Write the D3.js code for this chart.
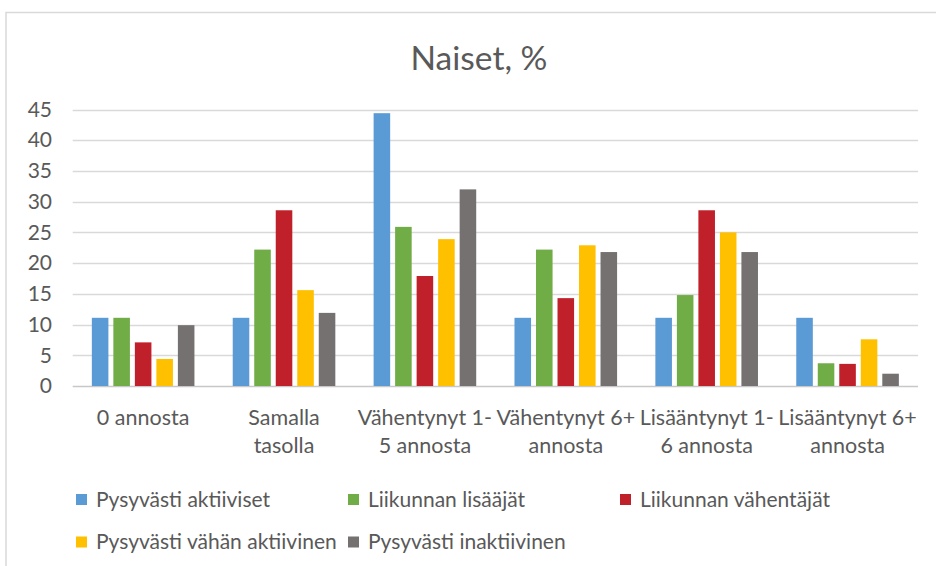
<!DOCTYPE html>
<html><head><meta charset="utf-8">
<script src="https://cdn.jsdelivr.net/npm/d3@7"></script>
<style>
html,body{margin:0;padding:0;background:#fff;}
text{font-family:Lato,"Open Sans",sans-serif;}
</style></head>
<body>
<svg id="c" width="936" height="566"></svg>
<script>
const categories = [["0 annosta"],["Samalla","tasolla"],["Vähentynyt 1-","5 annosta"],["Vähentynyt 6+","annosta"],["Lisääntynyt 1-","6 annosta"],["Lisääntynyt 6+","annosta"]];
const seriesNames = ["Pysyvästi aktiiviset","Liikunnan lisääjät","Liikunnan vähentäjät","Pysyvästi vähän aktiivinen","Pysyvästi inaktiivinen"];
const seriesColors = ["#5B9BD5","#70AD47","#C0202A","#FFC000","#767171"];
const aktiiviset = [11.1, 11.1, 44.4, 11.1, 11.1, 11.1];
const lisaajat   = [11.1, 22.2, 25.9, 22.2, 14.8, 3.7];
const vahentajat = [7.1, 28.6, 17.9, 14.3, 28.6, 3.6];
const vahanAkt   = [4.4, 15.6, 23.9, 22.9, 25.0, 7.6];
const inaktiivi  = [9.9, 11.9, 32.0, 21.8, 21.8, 2.0];
const yTicks = [0,5,10,15,20,25,30,35,40,45];
const seriesValues = [aktiiviset, lisaajat, vahentajat, vahanAkt, inaktiivi];

const svg = d3.select("#c");
// chart border
svg.append("path").attr("d","M6,566 L6,12.5 L936,12.5").attr("fill","none").attr("stroke","#d9d9d9").attr("stroke-width",1.5);

svg.append("text").attr("x",479).attr("y",70).attr("text-anchor","middle")
  .attr("font-size",33.5).attr("fill","#595959").text("Naiset, %");

const y = d3.scaleLinear().domain([0,45]).range([386,109.5]);
const x0 = d3.scaleBand().domain(d3.range(categories.length)).range([72.7,918]).padding(0);
const x1 = d3.scaleBand().domain(d3.range(seriesNames.length)).range([0,x0.bandwidth()]).paddingInner(0.23).paddingOuter(0.89);

// gridlines
svg.append("g").selectAll("line").data(yTicks).join("line")
  .attr("x1",72.7).attr("x2",918).attr("y1",d=>Math.round(y(d))+0.5).attr("y2",d=>Math.round(y(d))+0.5)
  .attr("stroke",d=>d===0?"#c8c8c8":"#d9d9d9").attr("stroke-width",1.5);

// y tick labels
const yAxis = d3.axisLeft(y).tickValues(yTicks).tickSize(0).tickPadding(0);
const ya = svg.append("g").attr("transform","translate(52,0)").call(yAxis);
ya.select(".domain").remove();
ya.selectAll("text").attr("font-size",21).attr("fill","#595959").attr("font-family","Lato,'Open Sans',sans-serif");

// bars
const groups = svg.append("g").selectAll("g").data(categories).join("g")
  .attr("transform",(d,i)=>`translate(${x0(i)},0)`);
groups.selectAll("rect").data((d,i)=>seriesValues.map((s,j)=>({j,v:s[i]}))).join("rect")
  .attr("x",d=>x1(d.j)).attr("width",x1.bandwidth())
  .attr("y",d=>y(d.v)).attr("height",d=>y(0)-y(d.v))
  .attr("fill",d=>seriesColors[d.j]);

// category labels
const cl = svg.append("g").selectAll("text").data(categories).join("text")
  .attr("x",(d,i)=>x0(i)+x0.bandwidth()/2).attr("y",425)
  .attr("text-anchor","middle").attr("font-size",21.5).attr("fill","#595959");
cl.selectAll("tspan").data(d=>d).join("tspan")
  .attr("x",function(){return this.parentNode.getAttribute("x");})
  .attr("dy",(d,k)=>k===0?0:27.7).text(d=>d);

// legend
const legendPos = [[76,499.5],[348,499.5],[620,499.5],[76,542],[348,542]];
const lg = svg.append("g").selectAll("g").data(seriesNames).join("g")
  .attr("transform",(d,i)=>`translate(${legendPos[i][0]},${legendPos[i][1]})`);
lg.append("rect").attr("x",0).attr("y",-5.5).attr("width",11).attr("height",11).attr("fill",(d,i)=>seriesColors[i]);
lg.append("text").attr("x",20).attr("y",7.3).attr("font-size",21).attr("fill","#595959").text(d=>d);
</script>
</body></html>
